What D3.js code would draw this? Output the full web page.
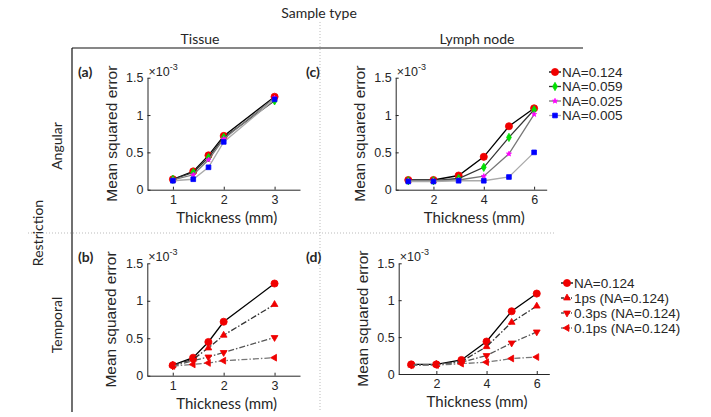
<!DOCTYPE html>
<html>
<head>
<meta charset="utf-8">
<script src="https://cdn.jsdelivr.net/npm/d3@7"></script>
<style>
  body { margin: 0; background: #fff; }
  svg text { fill: #262626; }
</style>
</head>
<body>
<div id="chart"></div>
<script>
// x values (mm)
const tissueX = [1, 1.4, 1.7, 2, 3];
const lymphX = [1, 2, 3, 4, 5, 6];

// mean squared error, x 1e-3
const angTissue124 = [0.14, 0.245, 0.46, 0.72, 1.245];
const angTissue059 = [0.14, 0.23, 0.43, 0.70, 1.19];
const angTissue025 = [0.13, 0.20, 0.40, 0.68, 1.23];
const angTissue005 = [0.12, 0.14, 0.30, 0.64, 1.21];

const angLymph124 = [0.13, 0.13, 0.19, 0.44, 0.85, 1.09];
const angLymph059 = [0.12, 0.12, 0.15, 0.30, 0.70, 1.07];
const angLymph025 = [0.12, 0.12, 0.13, 0.18, 0.48, 1.01];
const angLymph005 = [0.11, 0.11, 0.12, 0.12, 0.17, 0.50];

const tmpTissue124 = [0.14, 0.24, 0.45, 0.72, 1.23];
const tmpTissue1ps = [0.14, 0.22, 0.37, 0.54, 0.95];
const tmpTissue03ps = [0.13, 0.20, 0.25, 0.31, 0.51];
const tmpTissue01ps = [0.13, 0.15, 0.17, 0.20, 0.24];

const tmpLymph124 = [0.13, 0.13, 0.19, 0.44, 0.85, 1.09];
const tmpLymph1ps = [0.12, 0.13, 0.17, 0.37, 0.70, 0.92];
const tmpLymph03ps = [0.12, 0.13, 0.16, 0.25, 0.42, 0.57];
const tmpLymph01ps = [0.12, 0.12, 0.14, 0.16, 0.21, 0.23];

const angularNames = ['NA=0.124', 'NA=0.059', 'NA=0.025', 'NA=0.005'];
const temporalNames = ['NA=0.124', '1ps (NA=0.124)', '0.3ps (NA=0.124)', '0.1ps (NA=0.124)'];
const yTicks = [0, 0.5, 1, 1.5];
const tissueTicks = [1, 2, 3];
const lymphTicks = [2, 4, 6];

// styles for each series
const angularStyle = [
  { line: '#000', marker: 'circle', fill: '#f00000', size: 40, dash: null },
  { line: '#333', marker: 'diamond', fill: '#00e000', size: 20, dash: null },
  { line: '#777', marker: 'star', fill: '#ff00ff', size: 8, dash: null },
  { line: '#aaa', marker: 'square', fill: '#0000ff', size: 22, dash: null }
];
const temporalStyle = [
  { line: '#000', marker: 'circle', fill: '#f00000', size: 40, dash: null },
  { line: '#333', marker: 'up', fill: '#f00000', size: 20, dash: '6,2,1.5,2' },
  { line: '#555', marker: 'down', fill: '#f00000', size: 20, dash: '6,2,1.5,2' },
  { line: '#777', marker: 'left', fill: '#f00000', size: 20, dash: '6,2,1.5,2' }
];

const width = 711, height = 417;
const svg = d3.select('#chart').append('svg')
  .attr('width', width).attr('height', height);

const arial = 'Liberation Sans, Arial, sans-serif';
const calibri = 'Lato, Carlito, Calibri, sans-serif';

// 枠線と区切り線
svg.append('line').attr('x1', 72).attr('x2', 583).attr('y1', 48).attr('y2', 48)
  .attr('stroke', '#111').attr('stroke-width', 1.2);
svg.append('line').attr('x1', 72).attr('x2', 72).attr('y1', 48).attr('y2', 412)
  .attr('stroke', '#111').attr('stroke-width', 1.2);
svg.append('line').attr('x1', 320).attr('x2', 320).attr('y1', 22).attr('y2', 412)
  .attr('stroke', '#bbb').attr('stroke-width', 1).attr('stroke-dasharray', '1,2');
svg.append('line').attr('x1', 28).attr('x2', 556).attr('y1', 233).attr('y2', 233)
  .attr('stroke', '#bbb').attr('stroke-width', 1).attr('stroke-dasharray', '1,2');

svg.append('text').attr('x', 319).attr('y', 18).attr('text-anchor', 'middle')
  .style('font-family', calibri).style('font-size', '14px').text('Sample type');
svg.append('text').attr('x', 200).attr('y', 44).attr('text-anchor', 'middle')
  .style('font-family', calibri).style('font-size', '14px').text('Tissue');
svg.append('text').attr('x', 477).attr('y', 44).attr('text-anchor', 'middle')
  .style('font-family', calibri).style('font-size', '14px').text('Lymph node');

function vLabel(x, y, t) {
  svg.append('text').attr('transform', `translate(${x},${y}) rotate(-90)`)
    .attr('text-anchor', 'middle')
    .style('font-family', calibri).style('font-size', '14px').text(t);
}
vLabel(43, 233, 'Restriction');
vLabel(62, 146, 'Angular');
vLabel(62, 325, 'Temporal');

const symbolTypes = {
  circle: d3.symbolCircle,
  diamond: d3.symbolDiamond,
  star: d3.symbolStar,
  square: d3.symbolSquare,
  up: d3.symbolTriangle
};

function markerPath(st) {
  const type = st.marker === 'down' || st.marker === 'left' ? d3.symbolTriangle : symbolTypes[st.marker];
  return d3.symbol().type(type).size(st.size)();
}
function markerRotate(st) {
  if (st.marker === 'down') return 180;
  if (st.marker === 'left') return -90;
  return 0;
}

function styleAxis(a) {
  a.select('.domain').attr('stroke', '#262626');
  a.selectAll('line').attr('stroke', '#262626');
  a.selectAll('text').style('font-family', arial).style('font-size', '12.5px').attr('fill', '#262626');
}

function drawPanel(p) {
  const x = d3.scaleLinear().domain(p.xDomain).range([p.left, p.right]);
  const y = d3.scaleLinear().domain([0, 1.5]).range([p.bottom, p.top]);
  const g = svg.append('g');

  g.append('g').attr('transform', `translate(0,${p.bottom})`)
    .call(d3.axisBottom(x).tickValues(p.xTicks).tickFormat(d3.format('d'))
      .tickSizeInner(-3).tickSizeOuter(0).tickPadding(5))
    .call(styleAxis);
  g.append('g').attr('transform', `translate(${p.left},0)`)
    .call(d3.axisLeft(y).tickValues(yTicks).tickFormat(d3.format('~g'))
      .tickSizeInner(-3).tickSizeOuter(0).tickPadding(4))
    .call(styleAxis);

  // 指数ラベル
  const ex = g.append('text').attr('x', p.left + 1).attr('y', p.top - 2)
    .style('font-family', arial).style('font-size', '12.5px').attr('fill', '#555');
  ex.append('tspan').text('\u00d710');
  ex.append('tspan').attr('dy', -6).style('font-size', '9px').text('-3');

  g.append('text').attr('transform', `translate(${p.left - 31},${(p.top + p.bottom) / 2}) rotate(-90)`)
    .attr('text-anchor', 'middle').style('font-family', arial).style('font-size', '15.5px')
    .text('Mean squared error');
  g.append('text').attr('x', (p.left + p.right) / 2 + 3).attr('y', p.bottom + 33)
    .attr('text-anchor', 'middle').style('font-family', calibri).style('font-size', '15px')
    .text('Thickness (mm)');
  g.append('text').attr('x', p.tagX).attr('y', p.top - 1)
    .style('font-family', calibri).style('font-size', '14px').style('font-weight', 'bold')
    .text(p.tag);

  const line = d3.line().x(d => x(d[0])).y(d => y(d[1]));
  p.series.forEach((s, i) => {
    const st = p.styles[i];
    const pts = p.xs.map((v, j) => [v, s[j]]);
    g.append('path').datum(pts).attr('d', line).attr('fill', 'none')
      .attr('stroke', st.line).attr('stroke-width', 1.3)
      .attr('stroke-dasharray', st.dash);
    g.selectAll(null).data(pts).enter().append('path')
      .attr('d', markerPath(st))
      .attr('transform', d => `translate(${x(d[0])},${y(d[1])}) rotate(${markerRotate(st)})`)
      .attr('fill', st.fill).attr('stroke', st.fill).attr('stroke-width', 0.8);
  });

  if (p.legend) {
    const lg = svg.append('g');
    p.legend.names.forEach((n, i) => {
      const st = p.styles[i];
      const yy = p.legend.y + i * p.legend.dy;
      lg.append('line').attr('x1', p.legend.x).attr('x2', p.legend.x + 12)
        .attr('y1', yy).attr('y2', yy).attr('stroke', st.line).attr('stroke-width', 1.3)
        .attr('stroke-dasharray', st.dash ? '3,1,1,1' : null);
      lg.append('path').attr('d', markerPath(st))
        .attr('transform', `translate(${p.legend.x + 6},${yy}) rotate(${markerRotate(st)})`)
        .attr('fill', st.fill).attr('stroke', st.fill).attr('stroke-width', 0.8);
      lg.append('text').attr('x', p.legend.x + 13).attr('y', yy + 4.7)
        .style('font-family', arial).style('font-size', '13.5px').text(n);
    });
  }
}

drawPanel({
  tag: '(a)', tagX: 78, left: 147.5, right: 300, top: 77.7, bottom: 189.7,
  xDomain: [0.5, 3.5], xTicks: tissueTicks, xs: tissueX,
  series: [angTissue124, angTissue059, angTissue025, angTissue005], styles: angularStyle
});
drawPanel({
  tag: '(c)', tagX: 306, left: 395.7, right: 546.7, top: 77.7, bottom: 189.7,
  xDomain: [0.5, 6.5], xTicks: lymphTicks, xs: lymphX,
  series: [angLymph124, angLymph059, angLymph025, angLymph005], styles: angularStyle,
  legend: { names: angularNames, x: 549, y: 72, dy: 14.5 }
});
drawPanel({
  tag: '(b)', tagX: 78, left: 147.3, right: 300, top: 263.3, bottom: 375.7,
  xDomain: [0.5, 3.5], xTicks: tissueTicks, xs: tissueX,
  series: [tmpTissue124, tmpTissue1ps, tmpTissue03ps, tmpTissue01ps], styles: temporalStyle
});
drawPanel({
  tag: '(d)', tagX: 306, left: 398.7, right: 549.3, top: 263.3, bottom: 374,
  xDomain: [0.5, 6.5], xTicks: lymphTicks, xs: lymphX,
  series: [tmpLymph124, tmpLymph1ps, tmpLymph03ps, tmpLymph01ps], styles: temporalStyle,
  legend: { names: temporalNames, x: 561, y: 283, dy: 15 }
});
</script>
</body>
</html>
